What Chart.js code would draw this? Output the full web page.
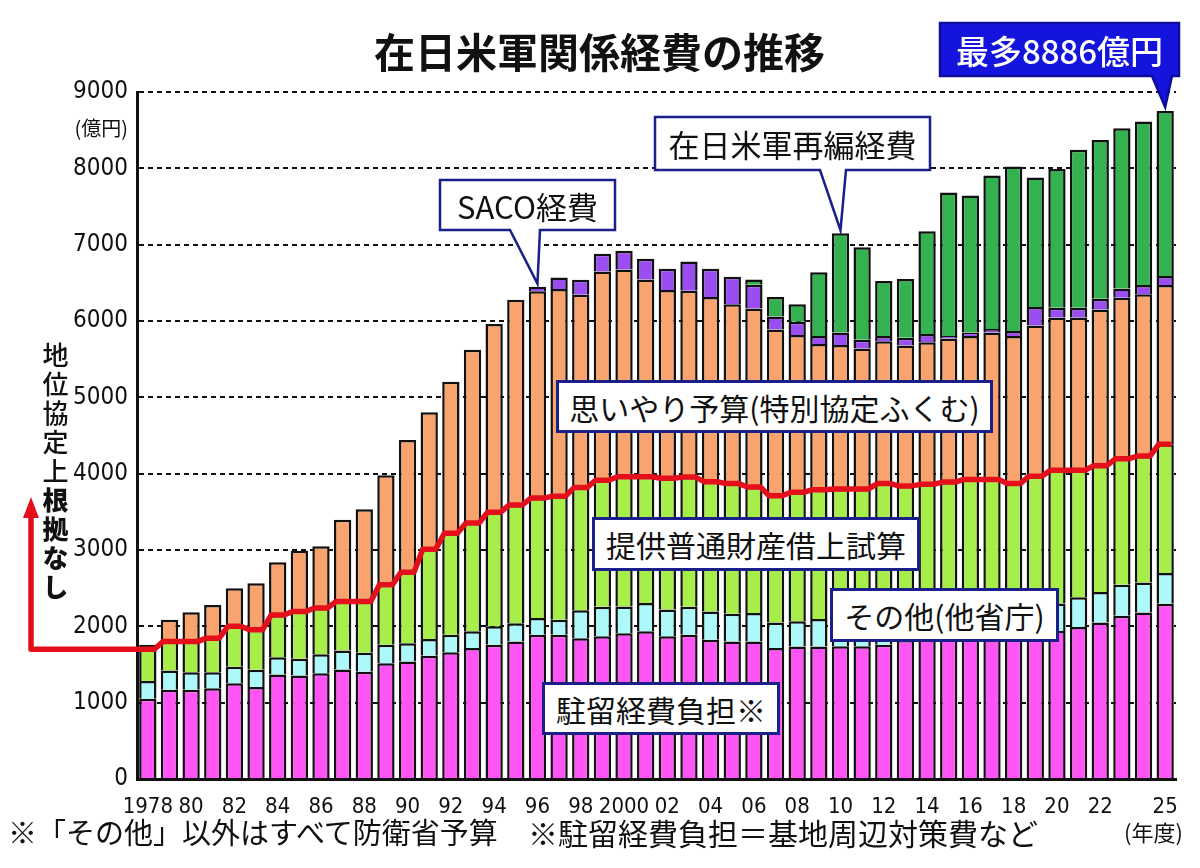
<!DOCTYPE html>
<html>
<head>
<meta charset="utf-8">
<script src="https://cdn.jsdelivr.net/npm/chart.js@4.4.1/dist/chart.umd.min.js"></script>
<style>
  html, body { margin: 0; padding: 0; background: #fff; }
  #wrap { position: relative; width: 1200px; height: 868px; overflow: hidden; font-family: 'Noto Sans CJK JP', sans-serif; }
  #c { position: absolute; left: 0; top: 0; }
  .t { position: absolute; white-space: nowrap; color: #111; line-height: 1; }
  .box { position: absolute; background: #fff; border: 3px solid #1b1f8a; box-sizing: border-box;
         display: flex; align-items: center; justify-content: center; font-size: 30px; color: #111; white-space: nowrap; }
  .call { position: absolute; display: flex; align-items: center; justify-content: center; white-space: nowrap; font-size: 31px; color: #111; }
</style>
</head>
<body>
<div id="wrap">
  <canvas id="c" width="1200" height="868"></canvas>

  <div class="t" style="left:374px; top:30px; font-size:41px; font-weight:bold;">在日米軍関係経費の推移</div>
  <div class="call" style="left:940px; top:23px; width:239px; height:53px; color:#fff; font-weight:500; font-size:33px;">最多8886億円</div>
  <div class="call" style="left:655px; top:117px; width:275px; height:53px;">在日米軍再編経費</div>
  <div class="call" style="left:440px; top:180px; width:175px; height:50px;">SACO経費</div>

  <div class="t" style="right:1072px; top:118px; font-size:20px;">(億円)</div>

  <div class="t" style="left:42px; top:342px; font-size:26px; writing-mode:vertical-rl; letter-spacing:3px; font-weight:500;">地位協定上<b style="font-weight:900;">根拠なし</b></div>

  <div class="box" style="left:556px; top:380px; width:437px; height:53px;">思いやり予算(特別協定ふくむ)</div>
  <div class="box" style="left:592px; top:517px; width:328px; height:54px;">提供普通財産借上試算</div>
  <div class="box" style="left:830px; top:588px; width:229px; height:54px;">その他(他省庁)</div>
  <div class="box" style="left:542px; top:682px; width:238px; height:53px;">駐留経費負担※</div>

  <div class="t" style="left:8px; top:817px; font-size:29px;">※「その他」以外はすべて防衛省予算</div>
  <div class="t" style="left:528px; top:817px; font-size:30px;">※駐留経費負担＝基地周辺対策費など</div>
  <div class="t" style="left:1124px; top:820px; font-size:22px;">(年度)</div>
</div>

<script>
// DATA (億円), fiscal years 1978-2025
const years = [1978, 1979, 1980, 1981, 1982, 1983, 1984, 1985, 1986, 1987,
  1988, 1989, 1990, 1991, 1992, 1993, 1994, 1995, 1996, 1997,
  1998, 1999, 2000, 2001, 2002, 2003, 2004, 2005, 2006, 2007,
  2008, 2009, 2010, 2011, 2012, 2013, 2014, 2015, 2016, 2017,
  2018, 2019, 2020, 2021, 2022, 2023, 2024, 2025];

const tickText = ['1978', '', '80', '', '82', '', '84', '', '86', '',
  '88', '', '90', '', '92', '', '94', '', '96', '',
  '98', '', '2000', '', '02', '', '04', '', '06', '',
  '08', '', '10', '', '12', '', '14', '', '16', '',
  '18', '', '20', '', '22', '', '', '25'];

// 駐留経費負担
const stationing = [1050, 1170, 1170, 1190, 1255, 1205, 1370, 1355, 1385, 1435,
  1405, 1515, 1540, 1615, 1660, 1715, 1760, 1800, 1890, 1890,
  1845, 1870, 1910, 1935, 1870, 1890, 1825, 1800, 1800, 1715,
  1735, 1735, 1740, 1740, 1760, 1820, 1830, 1850, 1860, 1870,
  1880, 1900, 1940, 1990, 2050, 2140, 2180, 2295];

// その他(他省庁)
const otherMinistries = [235, 250, 230, 210, 215, 225, 225, 220, 250, 250,
  250, 245, 240, 220, 230, 220, 240, 240, 220, 195,
  365, 385, 350, 370, 350, 365, 370, 365, 375, 335,
  330, 360, 360, 360, 360, 330, 340, 340, 340, 340,
  350, 350, 360, 390, 400, 405, 395, 405];

// 提供普通財産借上試算
const landRent = [415, 380, 400, 445, 530, 525, 555, 620, 605, 640,
  670, 785, 930, 1175, 1330, 1420, 1495, 1550, 1570, 1620,
  1610, 1660, 1700, 1655, 1720, 1700, 1700, 1705, 1650, 1660,
  1690, 1695, 1700, 1700, 1750, 1690, 1690, 1700, 1725, 1715,
  1640, 1715, 1745, 1665, 1655, 1650, 1655, 1685];

// 思いやり予算(特別協定ふくむ)
const hostNation = [60, 285, 385, 435, 500, 610, 690, 795, 810, 1070,
  1210, 1435, 1730, 1795, 1985, 2270, 2465, 2690, 2710, 2715,
  2525, 2735, 2715, 2585, 2465, 2440, 2420, 2350, 2340, 2180,
  2060, 1910, 1885, 1840, 1865, 1840, 1860, 1880, 1880, 1925,
  1935, 1975, 2000, 2000, 2045, 2110, 2120, 2085];

// SACO経費
const saco = [null, null, null, null, null, null, null, null, null, null,
  null, null, null, null, null, null, null, null, 60, 150,
  195, 230, 245, 270, 280, 385, 370, 360, 310, 170,
  175, 105, 165, 115, 70, 100, 110, 35, 45, 45,
  65, 245, 130, 130, 140, 120, 120, 120];

// 在日米軍再編経費
const realignment = [null, null, null, null, null, null, null, null, null, null,
  null, null, null, null, null, null, null, null, null, null,
  null, null, null, null, null, null, null, null, 70, 255,
  230, 835, 1300, 1210, 720, 770, 1345, 1880, 1795, 2010,
  2155, 1695, 1815, 2070, 2080, 2100, 2145, 2160];

// red line: top of the part that has a basis in the Status of Forces Agreement
const basisLine = [1700, 1800, 1800, 1845, 2000, 1955, 2150, 2195, 2240, 2325,
  2325, 2545, 2710, 3010, 3220, 3355, 3495, 3590, 3680, 3705,
  3820, 3915, 3960, 3960, 3940, 3955, 3895, 3870, 3825, 3710,
  3755, 3790, 3800, 3800, 3870, 3840, 3860, 3890, 3925, 3925,
  3870, 3965, 4045, 4045, 4105, 4195, 4230, 4385];

const yTicks = [0, 1000, 2000, 3000, 4000, 5000, 6000, 7000, 8000, 9000];

// COLOURS
const RED = '#e3101b';
const NAVY = '#1b1f8a';
const BLUE = '#1414dc';
const NARROW = "'Liberation Sans Narrow', 'DejaVu Sans Condensed', 'Liberation Sans', sans-serif";

function barSet(label, data, color) {
  return {
    type: 'bar', label, data, backgroundColor: color,
    borderColor: '#111', borderWidth: 2.5, borderSkipped: 'start',
    barPercentage: 0.8, categoryPercentage: 1.0, grouped: false, order: 1
  };
}

function totalAt(i) {
  return [stationing, otherMinistries, landRent, hostNation, saco, realignment]
    .reduce((s, arr) => s + (arr[i] || 0), 0);
}

// callout box with a pointer down to one bar top
function drawCallout(ctx, box, base, tip, fill, stroke) {
  ctx.save();
  ctx.beginPath();
  ctx.moveTo(box.x1, box.y1);
  ctx.lineTo(box.x2, box.y1);
  ctx.lineTo(box.x2, box.y2);
  ctx.lineTo(base[1], box.y2);
  ctx.lineTo(tip.x, tip.y);
  ctx.lineTo(base[0], box.y2);
  ctx.lineTo(box.x1, box.y2);
  ctx.closePath();
  ctx.fillStyle = fill;
  ctx.fill();
  ctx.lineWidth = 2.5;
  ctx.strokeStyle = stroke;
  ctx.stroke();
  ctx.restore();
}

const extras = {
  id: 'extras',
  afterDatasetsDraw(chart) {
    const ctx = chart.ctx;
    const xs = chart.scales.x, ys = chart.scales.y, x2 = chart.scales.x2;

    // red line lead-in from the left plus the upward arrow
    const y0 = ys.getPixelForValue(basisLine[0]);
    const xStart = x2.getPixelForValue(-0.3);
    ctx.save();
    ctx.strokeStyle = RED;
    ctx.lineWidth = 5.5;
    ctx.lineJoin = 'round';
    ctx.beginPath();
    ctx.moveTo(xStart, y0);
    ctx.lineTo(31, y0);
    ctx.lineTo(31, 514);
    ctx.stroke();
    ctx.fillStyle = RED;
    ctx.beginPath();
    ctx.moveTo(31, 497);
    ctx.lineTo(23, 518);
    ctx.lineTo(39, 518);
    ctx.closePath();
    ctx.fill();
    ctx.restore();

    // callouts
    const i96 = years.indexOf(1996), i10 = years.indexOf(2010), i25 = years.indexOf(2025);
    drawCallout(ctx, { x1: 440, y1: 180, x2: 615, y2: 230 }, [510, 540],
      { x: xs.getPixelForValue(i96), y: ys.getPixelForValue(totalAt(i96)) - 3 }, '#fff', NAVY);
    drawCallout(ctx, { x1: 655, y1: 117, x2: 930, y2: 170 }, [820, 846],
      { x: xs.getPixelForValue(i10), y: ys.getPixelForValue(totalAt(i10)) - 3 }, '#fff', NAVY);
    drawCallout(ctx, { x1: 940, y1: 23, x2: 1179, y2: 76 }, [1152, 1172],
      { x: xs.getPixelForValue(i25), y: ys.getPixelForValue(totalAt(i25)) - 4 }, BLUE, '#0d0d9a');
  }
};

new Chart(document.getElementById('c').getContext('2d'), {
  type: 'bar',
  data: {
    labels: years,
    datasets: [
      {
        type: 'line', label: 'basis', xAxisID: 'x2', order: 0,
        data: basisLine.flatMap((v, i) => [{ x: i - 0.3, y: v }, { x: i + 0.3, y: v }]),
        borderColor: RED, borderWidth: 5.5, pointRadius: 0, tension: 0,
        borderJoinStyle: 'round', fill: false
      },
      barSet('駐留経費負担', stationing, '#ff55f5'),
      barSet('その他(他省庁)', otherMinistries, '#adf8f8'),
      barSet('提供普通財産借上試算', landRent, '#a8ee4a'),
      barSet('思いやり予算', hostNation, '#f9a46e'),
      barSet('SACO経費', saco, '#9a4df0'),
      barSet('在日米軍再編経費', realignment, '#33b24f')
    ]
  },
  options: {
    responsive: false,
    animation: false,
    devicePixelRatio: 1,
    layout: { padding: { top: 92, right: 24, bottom: 0, left: 0 } },
    plugins: { legend: { display: false }, tooltip: { enabled: false }, title: { display: false } },
    scales: {
      x: {
        type: 'category',
        offset: true,
        stacked: true,
        grid: { display: false, offset: true },
        border: { display: true, color: '#111', width: 3 },
        ticks: {
          autoSkip: false, maxRotation: 0, minRotation: 0, padding: 7,
          color: '#111', font: { family: NARROW, size: 22 },
          callback: (v, i) => tickText[i]
        },
        afterFit: (s) => { s.height = 89; }
      },
      x2: { type: 'linear', min: -0.5, max: years.length - 0.5, display: false, offset: false },
      y: {
        stacked: true,
        min: 0, max: 9000,
        afterBuildTicks: (s) => { s.ticks = yTicks.map(v => ({ value: v })); },
        grid: { color: '#111', lineWidth: 2, drawTicks: false },
        border: { display: true, color: '#111', width: 3, dash: [5, 4] },
        ticks: { padding: 9, color: '#111', font: { family: NARROW, size: 24 }, callback: (v) => String(v) },
        afterFit: (s) => { s.width = 137; }
      }
    }
  },
  plugins: [extras]
});
</script>
</body>
</html>
